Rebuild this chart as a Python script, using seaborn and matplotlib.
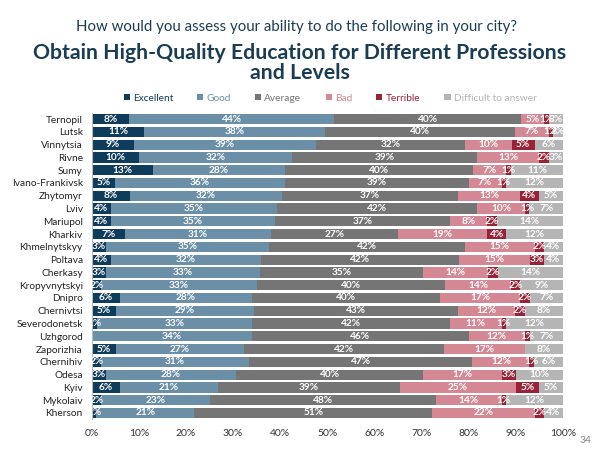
import numpy as np
import pandas as pd
import matplotlib
matplotlib.use("Agg")
import matplotlib.pyplot as plt
import seaborn as sns
from matplotlib.patches import Patch

cities = ["Ternopil", "Lutsk", "Vinnytsia", "Rivne", "Sumy", "Ivano-Frankivsk",
          "Zhytomyr", "Lviv", "Mariupol", "Kharkiv", "Khmelnytskyy", "Poltava",
          "Cherkasy", "Kropyvnytskyi", "Dnipro", "Chernivtsi", "Severodonetsk",
          "Uzhgorod", "Zaporizhia", "Chernihiv", "Odesa", "Kyiv", "Mykolaiv", "Kherson"]

excellent = [8, 11, 9, 10, 13, 5, 8, 4, 4, 7, 3, 4, 3, 2, 6, 5, 1, 0, 5, 2, 3, 6, 2, 1]
good      = [44, 38, 39, 32, 28, 36, 32, 35, 35, 31, 35, 32, 33, 33, 28, 29, 33, 34, 27, 31, 28, 21, 23, 21]
average   = [40, 40, 32, 39, 40, 39, 37, 42, 37, 27, 42, 42, 35, 40, 40, 43, 42, 46, 42, 47, 40, 39, 48, 51]
bad       = [5, 7, 10, 13, 7, 7, 13, 10, 8, 19, 15, 15, 14, 14, 17, 12, 11, 12, 17, 12, 17, 25, 14, 22]
terrible  = [1, 1, 5, 2, 1, 1, 4, 1, 2, 4, 2, 3, 2, 2, 2, 2, 1, 1, 0, 1, 3, 5, 1, 2]
difficult = [3, 2, 6, 3, 11, 12, 5, 7, 14, 12, 4, 4, 14, 9, 7, 8, 12, 7, 8, 6, 10, 5, 12, 4]

categories = ["Excellent", "Good", "Average", "Bad", "Terrible", "Difficult to answer"]
colors = ["#0f3c5a", "#6b8fa6", "#757575", "#d38893", "#9a2236", "#b5b5b5"]
title_color = "#1b3d54"

df = pd.DataFrame({"city": cities, "Excellent": excellent, "Good": good,
                   "Average": average, "Bad": bad, "Terrible": terrible,
                   "Difficult to answer": difficult})
vals = df[categories].astype(float)
# bars are shown as 100% stacks
shares = vals.div(vals.sum(axis=1), axis=0) * 100
cum = shares.cumsum(axis=1)

sns.set_style("white")
plt.rcParams["font.family"] = ["Lato", "DejaVu Sans"]

fig = plt.figure(figsize=(6, 4.49), dpi=100)
ax = fig.add_axes([0.153, 0.066, 0.785, 0.683])

# draw cumulative bars from the widest down so each segment shows
for i in range(len(categories) - 1, -1, -1):
    sns.barplot(x=cum.iloc[:, i], y=df["city"], color=colors[i], orient="h",
                width=0.8, ax=ax, saturation=1, linewidth=0)

# segment labels
for r in range(len(cities)):
    for i, cat in enumerate(categories):
        v = vals.iloc[r, i]
        if v <= 0:
            continue
        left = cum.iloc[r, i] - shares.iloc[r, i]
        ax.text(left + shares.iloc[r, i] / 2, r, f"{int(v)}%", ha="center", va="center",
                color="white", fontsize=7.3, fontweight="bold")

ax.set_xlim(0, 100)
ax.set_ylim(len(cities) - 0.5, -0.5)
ax.set_xticks(np.arange(0, 101, 10))
ax.set_xticklabels([f"{t}%" for t in range(0, 101, 10)], fontsize=7.5, color="#333333")
ax.set_xlabel("")
ax.set_ylabel("")
ax.tick_params(axis="y", labelsize=7.3, colors="#222222", length=3, color="#bbbbbb")
ax.tick_params(axis="x", length=3, color="#cccccc", pad=4)
for s in ["top", "right", "bottom"]:
    ax.spines[s].set_visible(False)
ax.spines["left"].set_color("#bbbbbb")
ax.spines["left"].set_linewidth(0.8)

handles = [Patch(facecolor=c, edgecolor="none") for c in colors]
leg = fig.legend(handles, categories, loc="center", bbox_to_anchor=(0.55, 0.781), ncol=6,
                 frameon=False, fontsize=7.3, handlelength=0.6, handleheight=0.6,
                 handletextpad=0.3, columnspacing=2.4)
for t, c in zip(leg.get_texts(), colors):
    t.set_color(c)

fig.text(0.494, 0.94, "How would you assess your ability to do the following in your city?",
         ha="center", va="center", fontsize=10.8, color=title_color)
fig.text(0.5, 0.86, "Obtain High-Quality Education for Different Professions\nand Levels",
         ha="center", va="center", fontsize=15.3, fontweight="bold", color=title_color,
         linespacing=1.0)
fig.text(0.975, 0.02, "34", ha="center", va="center", fontsize=7.5, color="#888888")

fig.savefig("out.png", dpi=100)
